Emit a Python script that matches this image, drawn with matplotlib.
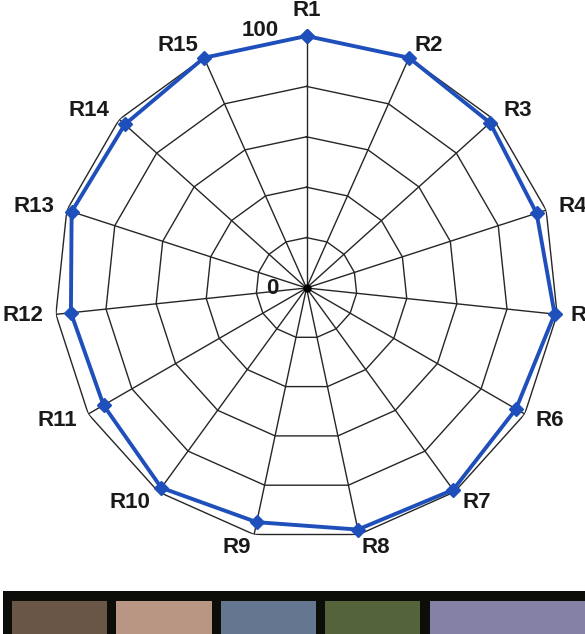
import numpy as np
import matplotlib
matplotlib.use("Agg")
import matplotlib.pyplot as plt

# data
categories = ["R1", "R2", "R3", "R4", "R5", "R6", "R7", "R8",
              "R9", "R10", "R11", "R12", "R13", "R14", "R15"]
values = [100, 100, 98, 96, 99, 96, 99, 98, 95, 98, 93, 94, 98, 97, 100]
ring_levels = [20, 40, 60, 80, 100]
tick_labels = {0: "0", 100: "100"}
swatch_colors = ["#6a5646", "#b99684", "#657690", "#55633a", "#8581a5"]

FONT = ["Liberation Sans", "DejaVu Sans"]
W, H = 585, 634

fig = plt.figure(figsize=(W / 100, H / 100), dpi=100)
fig.patch.set_facecolor("white")

# radar chart
cx, cy, R = 306.5, 288, 252
ax = fig.add_axes([(cx - R) / W, (H - cy - R) / H, 2 * R / W, 2 * R / H], projection="polar")
ax.set_theta_zero_location("N")
ax.set_theta_direction(-1)
ax.set_ylim(0, 100)
ax.grid(False)
ax.set_xticks([])
ax.set_yticks([])
ax.spines["polar"].set_visible(False)
ax.patch.set_alpha(0)

n = len(categories)
theta = np.arange(n) * 2 * np.pi / n
theta_closed = np.append(theta, theta[0])

grid_color = "#262626"
for lev in ring_levels:
    ax.plot(theta_closed, [lev] * (n + 1), color=grid_color, lw=1.0, zorder=1)
for t in theta:
    ax.plot([t, t], [0, 100], color=grid_color, lw=1.0, zorder=1)
ax.plot([0], [0], "o", color="black", ms=5, zorder=2)

vals_closed = values + values[:1]
ax.plot(theta_closed, vals_closed, color="#1f4fbb", lw=2.8, marker="D", ms=7,
        markeredgecolor="#1f4fbb", zorder=3, clip_on=False)

# category labels
for t, lab in zip(theta, categories):
    s, c = np.sin(t), np.cos(t)
    if abs(s) < 0.05:
        ha = "center"
    elif s > 0:
        ha = "left"
    else:
        ha = "right"
    dx = 13 * s
    dy = 13 * c + (13 if c > 0.95 else 0)
    ax.annotate(lab, xy=(t, 100), xytext=(dx, dy), textcoords="offset pixels",
                ha=ha, va="center", fontsize=16, family=FONT, weight="bold",
                color="#1a1a1a", annotation_clip=False)

# radial tick labels
for r, lab in tick_labels.items():
    dy = 6 if r > 0 else 0
    ax.annotate(lab, xy=(0, r), xytext=(-28, dy), textcoords="offset pixels",
                ha="right", va="center", fontsize=16, family=FONT, weight="bold",
                color="#1a1a1a", annotation_clip=False)

# colour strip at the bottom
bx = fig.add_axes([3 / W, 0, (W - 3) / W, 43 / H])
bx.set_facecolor("#0d0d0a")
pos = np.arange(len(swatch_colors))
widths = [0.91, 0.91, 0.91, 0.91, 1.6]
lefts = pos - 0.455
bx.bar(lefts, [1] * len(pos), width=widths, color=swatch_colors, align="edge")
bx.set_xlim(-0.541, 5.03)
bx.set_ylim(0, 1.3)
bx.set_xticks([])
bx.set_yticks([])
for sp in bx.spines.values():
    sp.set_visible(False)

fig.savefig("out.png", dpi=100)
